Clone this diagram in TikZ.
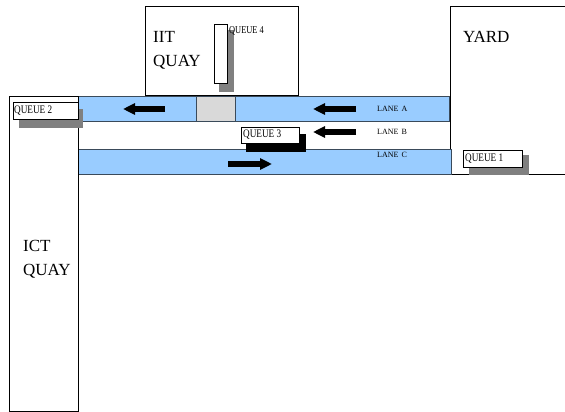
\documentclass[tikz,border=0pt]{standalone}
\usepackage{fontspec}
\setmainfont{Liberation Serif}
\usetikzlibrary{arrows.meta}
\definecolor{laneblue}{HTML}{99CCFF}
\definecolor{lanegray}{HTML}{D9D9D9}
\definecolor{shadowgray}{HTML}{808080}
\definecolor{laneedge}{HTML}{3A4A5A}
\tikzset{
  box/.style={draw=black, line width=0.6pt, inner sep=0pt, anchor=north west, fill=white},
  lanebox/.style={draw=laneedge, line width=0.6pt, fill=laneblue, inner sep=0pt, anchor=north west, minimum height=25pt},
  shadowbox/.style={fill=shadowgray, inner sep=0pt, anchor=north west},
  qbox/.style={draw=black, line width=0.5pt, fill=white, inner sep=0pt, anchor=north west, minimum height=17pt},
  qlabel/.style={inner sep=0pt, anchor=west, font=\fontsize{11.5}{12}\selectfont, xscale=0.8},
  lanelabel/.style={inner sep=0pt, anchor=west, font=\fontsize{8}{9}\selectfont},
  biglabel/.style={inner sep=0pt, anchor=north west, align=left, font=\fontsize{17}{24}\selectfont},
  flow/.style={line width=6pt, -{Triangle[length=12pt,width=11pt]}}
}
\begin{document}
\begin{tikzpicture}[x=1pt,y=-1pt]
\useasboundingbox (0,0) rectangle (565,412);
% IIT quay
\node[box, minimum width=153pt, minimum height=89pt] (iit) at (145,6) {};
\node[biglabel] (iitlabel) at (153,31) {IIT\\QUAY};
% Yard
\coordinate (ytr) at (566,6);
\coordinate (ytl) at (450,6);
\coordinate (ybl) at (450,174);
\coordinate (ybr) at (566,174);
\draw[line width=0.6pt] (ytr) -- (ytl) -- (ybl) -- (ybr);
\node[biglabel] (yardlabel) at (463,31) {YARD};
% Lanes
\node[lanebox, minimum width=371pt] (laneA) at (78,96) {};
\node[draw=laneedge, line width=0.6pt, fill=lanegray, inner sep=0pt, anchor=north west, minimum width=39pt, minimum height=25pt] (gate) at (196,96) {};
\node[lanebox, minimum width=373pt] (laneC) at (78,149) {};
% ICT quay
\node[box, fill=none, minimum width=69pt, minimum height=315pt] (ict) at (9,96) {};
\node[biglabel] (ictlabel) at (23,240) {ICT\\QUAY};
% Queue 4
\node[shadowbox, minimum width=15pt, minimum height=62pt] (q4s) at (219,30) {};
\node[qbox, minimum width=13pt, minimum height=59pt] (q4) at (214,24) {};
\node[qlabel, font=\fontsize{10.5}{11}\selectfont] (q4l) at (229,31) {QUEUE 4};
% Queue 2
\node[shadowbox, minimum width=64pt, minimum height=19pt] (q2s) at (19,109) {};
\node[qbox, minimum width=65pt] (q2) at (13,102) {};
\node[qlabel] (q2l) at (14,110.5) {QUEUE 2};
% Queue 3
\node[shadowbox, fill=black, minimum width=60pt, minimum height=18pt] (q3s) at (246,134) {};
\node[qbox, minimum width=58pt, minimum height=16pt] (q3) at (241,127) {};
\node[qlabel] (q3l) at (243,135) {QUEUE 3};
% Queue 1
\node[shadowbox, minimum width=60pt, minimum height=20pt] (q1s) at (469,155) {};
\node[qbox, minimum width=59pt] (q1) at (463,150) {};
\node[qlabel] (q1l) at (465,158.5) {QUEUE 1};
% Lane labels
\node[lanelabel] (la) at (377,109) {LANE\hspace{3pt}A};
\node[lanelabel] (lb) at (377,132) {LANE\hspace{3pt}B};
\node[lanelabel] (lc) at (377,155) {LANE\hspace{3pt}C};
% Arrows
\coordinate (a1t) at (165,109); \coordinate (a1h) at (123,109);
\coordinate (a2t) at (356,109); \coordinate (a2h) at (313,109);
\coordinate (b1t) at (356,132); \coordinate (b1h) at (313,132);
\coordinate (c1t) at (228,164); \coordinate (c1h) at (272,164);
\draw[flow] (a1t) -- (a1h);
\draw[flow] (a2t) -- (a2h);
\draw[flow] (b1t) -- (b1h);
\draw[flow] (c1t) -- (c1h);
\end{tikzpicture}
\end{document}
